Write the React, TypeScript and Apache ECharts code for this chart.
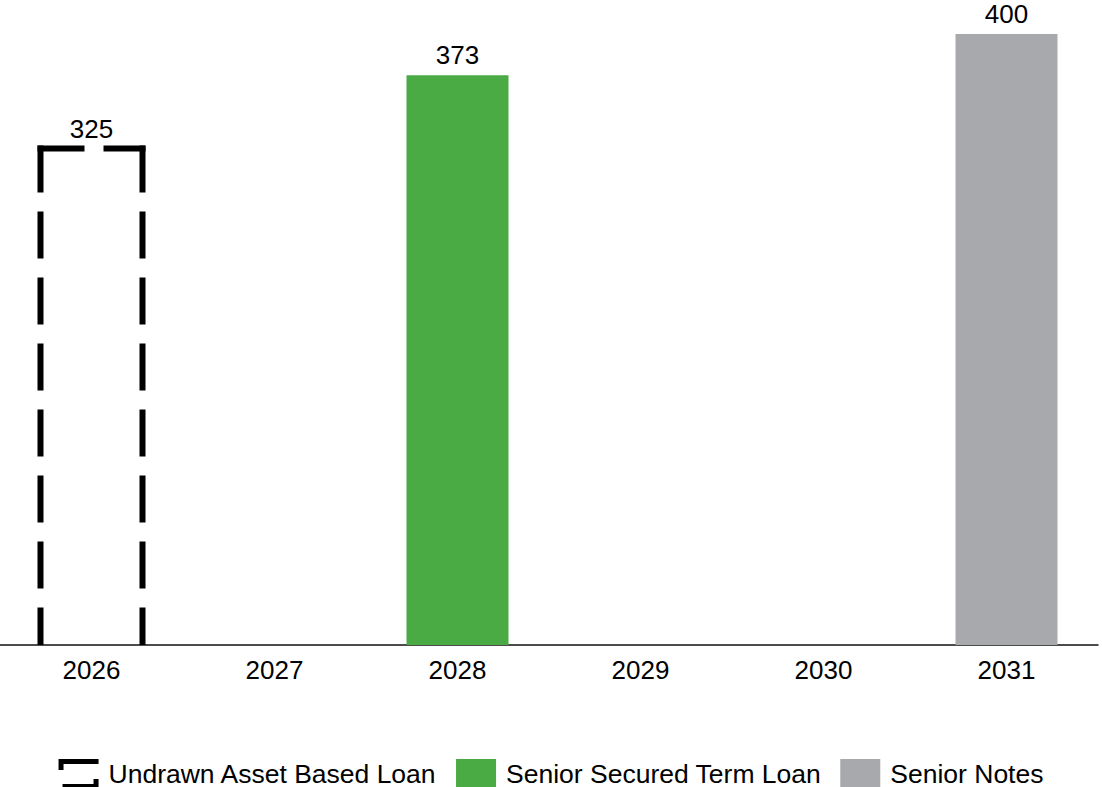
import React, { useEffect, useRef } from "react";
import * as echarts from "echarts";

const years = ["2026", "2027", "2028", "2029", "2030", "2031"];
const undrawnABL: (number | null)[] = [325, null, null, null, null, null];
const termLoan: (number | null)[] = [null, null, 373, null, null, null];
const seniorNotes: (number | null)[] = [null, null, null, null, null, 400];
const seriesNames = ["Undrawn Asset Based Loan", "Senior Secured Term Loan", "Senior Notes"];

const FONT = "'Liberation Sans', Arial, Helvetica, sans-serif";
const BAR_W = 102;

export default function App() {
  const ref = useRef<HTMLDivElement>(null);
  useEffect(() => {
    if (!ref.current) return;
    const chart = echarts.init(ref.current, null, { renderer: "svg" });
    const ablData = undrawnABL
      .map((v, i) => (v == null ? null : [i, v]))
      .filter((d) => d !== null);
    chart.setOption({
      animation: false,
      backgroundColor: "#ffffff",
      textStyle: { fontFamily: FONT },
      grid: { left: 0, right: 4, top: 34, bottom: 142, containLabel: false },
      legend: {
        left: "center",
        top: 754,
        itemWidth: 40,
        itemHeight: 30,
        itemGap: 19,
        symbolKeepAspect: false,
        textStyle: { fontSize: 26.5, lineHeight: 22, color: "#000", fontFamily: FONT, padding: [0, 0, 0, 5] },
        data: [
          {
            name: seriesNames[0],
            icon: "path://M0,0H40V5H5V11H0Z M4,25H35V20H40V30H4Z",
            itemStyle: { color: "#000", borderWidth: 0 },
          },
          { name: seriesNames[1], icon: "path://M1,1H39V29H1Z" },
          { name: seriesNames[2], icon: "path://M1,1H39V29H1Z" },
        ],
      },
      xAxis: {
        type: "category",
        data: years,
        axisLine: { show: true, lineStyle: { color: "#111", width: 1.5 } },
        axisTick: { show: false },
        axisLabel: { fontSize: 26, color: "#000", margin: 12, fontFamily: FONT },
      },
      yAxis: {
        type: "value",
        min: 0,
        max: 400,
        show: false,
        splitLine: { show: false },
      },
      series: [
        {
          name: seriesNames[0],
          type: "custom",
          itemStyle: { color: "#000" },
          data: ablData,
          encode: { x: 0, y: 1 },
          renderItem: (params: any, api: any) => {
            const idx = api.value(0);
            const val = api.value(1);
            const top = api.coord([idx, val]);
            const base = api.coord([idx, 0]);
            const half = BAR_W / 2;
            const x0 = top[0] - half;
            const x1 = top[0] + half;
            const lw = 6;
            const st = { stroke: "#000", lineWidth: lw, lineDash: [47, 19], lineCap: "butt", fill: null };
            return {
              type: "group",
              children: [
                { type: "line", shape: { x1: x0, y1: top[1] - 3, x2: x0, y2: base[1] }, style: st },
                { type: "line", shape: { x1: x1, y1: top[1] - 3, x2: x1, y2: base[1] }, style: st },
                { type: "line", shape: { x1: x0 - 3, y1: top[1], x2: x1 + 3, y2: top[1] }, style: st },
                {
                  type: "text",
                  x: top[0],
                  y: top[1] - 7,
                  style: {
                    text: String(val),
                    fontSize: 26,
                    fontFamily: FONT,
                    fill: "#000",
                    align: "center",
                    verticalAlign: "bottom",
                  },
                },
              ],
            };
          },
        },
        {
          name: seriesNames[1],
          type: "bar",
          stack: "total",
          barWidth: BAR_W,
          data: termLoan,
          itemStyle: { color: "#4aaa43" },
          label: { show: true, position: "top", distance: 7, fontSize: 26, color: "#000", fontFamily: FONT },
        },
        {
          name: seriesNames[2],
          type: "bar",
          stack: "total",
          barWidth: BAR_W,
          data: seniorNotes,
          itemStyle: { color: "#a7a9ac" },
          label: { show: true, position: "top", distance: 7, fontSize: 26, color: "#000", fontFamily: FONT },
        },
      ],
    });
    return () => chart.dispose();
  }, []);
  return (
    <div
      ref={ref}
      style={{ position: "fixed", left: 0, top: 0, width: 1102, height: 787, background: "#fff" }}
    />
  );
}
